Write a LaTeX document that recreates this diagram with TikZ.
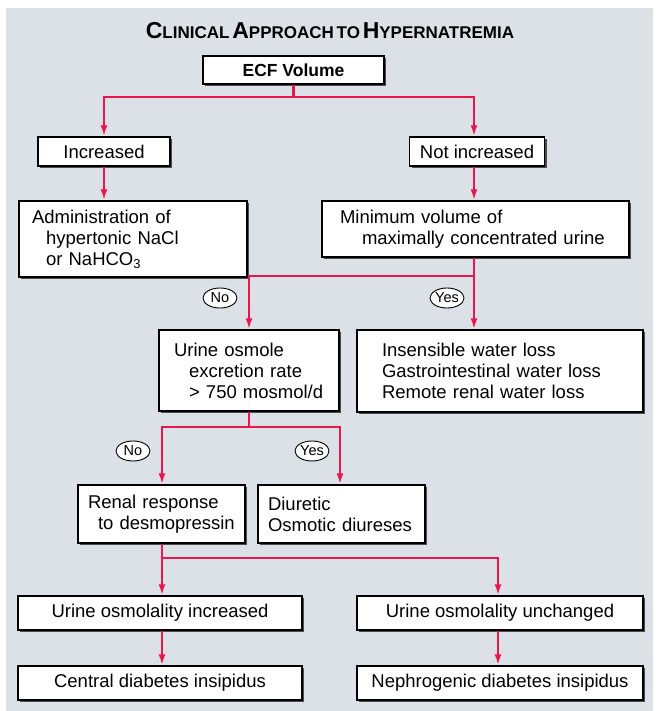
\documentclass[tikz,border=0pt]{standalone}
\usepackage{fontspec}
\setmainfont{Liberation Sans}
\usepackage{tikz}
\usetikzlibrary{arrows.meta}
\usetikzlibrary{shapes.geometric}
\usetikzlibrary{shadows}
\usetikzlibrary{calc}
\definecolor{panelbg}{RGB}{220,225,232}
\definecolor{arrred}{RGB}{232,24,78}
\newcommand\scw[2]{{\fontsize{23}{23}\selectfont #1}{\fontsize{17}{17}\selectfont #2}}

\begin{document}
\begin{tikzpicture}[x=1pt,y=-1pt,
  box/.style={draw,fill=white,line width=1.3pt,inner sep=0pt,
    drop shadow={shadow xshift=2pt,shadow yshift=-2pt,fill=black!70,opacity=1},
    font=\fontsize{18.5}{21}\selectfont},
  lbox/.style={box,align=left,inner xsep=#1},
  ell/.style={ellipse,draw,fill=white,line width=0.9pt,inner sep=0pt,
    minimum width=34pt,minimum height=20pt,font=\fontsize{14.5}{14.5}\selectfont},
  arr/.style={draw=arrred,line width=2.3pt,-{Latex[length=11pt,width=7pt]}},
  lin/.style={draw=arrred,line width=2.3pt}]
\useasboundingbox (0,0) rectangle (658,711);
\fill[panelbg] (6,8) rectangle (653,711);
\node[font=\bfseries] at (330,31) (title) {\scw{C}{LINICAL} \scw{A}{PPROACH} {\fontsize{17}{17}\selectfont TO} \scw{H}{YPERNATREMIA}};

  \node[box,font=\bfseries\fontsize{17.5}{20}\selectfont,minimum width=181pt,minimum height=28pt] at (293.5,70) (ecf) {ECF Volume};
  \node[box,minimum width=132pt,minimum height=29pt] at (104,151.5) (inc) {Increased};
  \node[box,minimum width=135pt,minimum height=29pt] at (477,151.5) (notinc) {Not increased};
  \node[lbox=13pt,text width=202pt,minimum height=76pt] at (133,239) (adm) {Administration of\\\hspace{14pt}hypertonic NaCl\\\hspace{14pt}or NaHCO\textsubscript{3}};
  \node[lbox=18pt,text width=271pt,minimum height=56pt] at (475.5,229) (minvol) {Minimum volume of\\\hspace{22pt}maximally concentrated urine};
  \node[lbox=15pt,text width=150pt,minimum height=81pt] at (249,370.5) (uosm) {Urine osmole\\\hspace{15pt}excretion rate\\\hspace{15pt}> 750 mosmol/d};
  \node[lbox=25pt,text width=236pt,minimum height=82pt] at (500,371) (insens) {Insensible water loss\\Gastrointestinal water loss\\Remote renal water loss};
  \node[lbox=10pt,text width=147pt,minimum height=58pt] at (161.5,514) (renal) {Renal response\\\hspace{10pt}to desmopressin};
  \node[lbox=10pt,text width=147pt,minimum height=58pt] at (341.5,514) (diur) {Diuretic\\Osmotic diureses};
  \node[box,minimum width=284pt,minimum height=34pt] at (160,613) (uinc) {Urine osmolality increased};
  \node[box,minimum width=286pt,minimum height=34pt] at (500,613) (uunch) {Urine osmolality unchanged};
  \node[box,minimum width=284pt,minimum height=34pt] at ([yshift=-70pt]uinc) (cdi) {Central diabetes insipidus};
  \node[box,minimum width=286pt,minimum height=34pt] at ([yshift=-70pt]uunch) (ndi) {Nephrogenic diabetes insipidus};

  \coordinate (j0) at (293.5,97);
  \coordinate (j1) at (474,276);
  \coordinate (j2) at (249,427);
  \coordinate (j3) at (162,558);

  \draw [lin] (ecf.south) -- (j0);
  \draw [arr] (j0) -| (inc.north);
  \draw [arr] (j0) -| ([xshift=-3pt]notinc.north);
  \draw [arr] (inc.south) -- (inc.south |- adm.north);
  \draw [arr] ([xshift=-3pt]notinc.south) -- ([xshift=-3pt]notinc.south |- minvol.north);
  \draw [lin] (j1 |- minvol.south) -- (j1);
  \draw [arr] (j1) -| (uosm.north);
  \draw [arr] (j1) -- (j1 |- insens.north);
  \draw [lin] (uosm.south) -- (j2);
  \draw [arr] (j2) -| (j3 |- renal.north);
  \draw [arr] (j2) -| ([xshift=-1.5pt]diur.north);
  \draw [lin] (j3 |- renal.south) -- (j3);
  \draw [arr] (j3) -- (j3 |- uinc.north);
  \draw [arr] (j3) -| ([xshift=-2pt]uunch.north);
  \draw [arr] (j3 |- uinc.south) -- (j3 |- cdi.north);
  \draw [arr] ([xshift=-2pt]uunch.south) -- ([xshift=-2pt]uunch.south |- ndi.north);

  \node[ell] at (220,298) (no1) {No};
  \node[ell] at (447,298) (yes1) {Yes};
  \node[ell] at (133,451) (no2) {No};
  \node[ell] at (312,451) (yes2) {Yes};

\end{tikzpicture}
\end{document}
